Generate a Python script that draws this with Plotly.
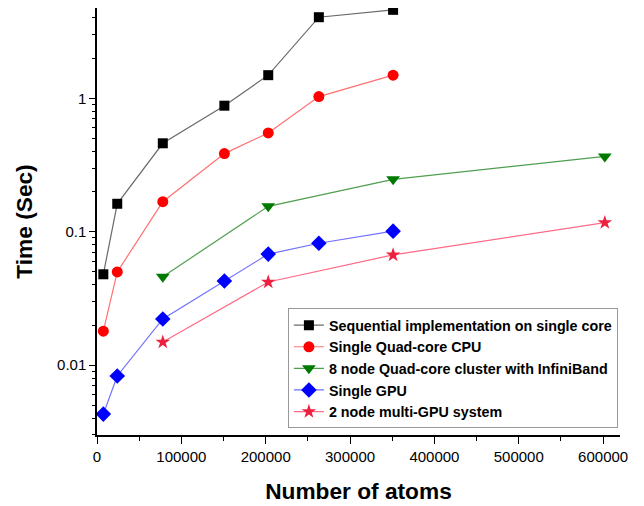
import plotly.graph_objects as go

# Data
seq_x = [7500, 24000, 78000, 151000, 203000, 263000, 351000]
seq_y = [0.048, 0.162, 0.46, 0.88, 1.49, 4.05, 4.6]

cpu_x = [7500, 24000, 78000, 151000, 203000, 263000, 351000]
cpu_y = [0.018, 0.050, 0.168, 0.385, 0.55, 1.03, 1.49]

clu_x = [78000, 203000, 351000, 602000]
clu_y = [0.046, 0.155, 0.247, 0.367]

gpu_x = [7500, 24000, 78000, 151000, 203000, 263000, 351000]
gpu_y = [0.0043, 0.0083, 0.0222, 0.0428, 0.068, 0.082, 0.101]

mgpu_x = [78000, 203000, 351000, 602000]
mgpu_y = [0.0149, 0.042, 0.067, 0.117]

names = [
    "Sequential implementation on single core",
    "Single Quad-core CPU",
    "8 node Quad-core cluster with InfiniBand",
    "Single GPU",
    "2 node multi-GPU system",
]

y_tickvals = [0.01, 0.1, 1]
y_ticktext = ["0.01", "0.1", "1"]
x_tickvals = [0, 100000, 200000, 300000, 400000, 500000, 600000]
x_ticktext = ["0", "100000", "200000", "300000", "400000", "500000", "600000"]

fig = go.Figure()

styles = [
    (seq_x, seq_y, "square", 10, "#000000", "#6a6a6a"),
    (cpu_x, cpu_y, "circle", 11, "#ff0000", "#ff7070"),
    (clu_x, clu_y, "triangle-down", 12, "#007a00", "#4f9f4f"),
    (gpu_x, gpu_y, "diamond", 12, "#0000ff", "#7070ff"),
    (mgpu_x, mgpu_y, "star", 11, "#ee2040", "#ff6a88"),
]

for (xs, ys, sym, sz, mc, lc), nm in zip(styles, names):
    fig.add_trace(go.Scatter(
        x=xs, y=ys, name=nm, mode="lines+markers", cliponaxis=False,
        line=dict(color=lc, width=1.2),
        marker=dict(symbol=sym, size=sz, color=mc, line=dict(width=0)),
    ))

minor_y = [k * 10 ** e for e in range(-3, 1) for k in range(2, 10)]
minor_y = [v for v in minor_y if 0.003 <= v <= 5]

fig.update_layout(
    width=636, height=498,
    margin=dict(l=89, r=24, t=0, b=71),
    paper_bgcolor="white", plot_bgcolor="white",
    font=dict(family="Liberation Sans, Arial, sans-serif", color="black"),
    showlegend=True,
    legend=dict(
        x=0.996, y=0.156, xanchor="right", yanchor="middle",
        bgcolor="white", bordercolor="#999999", borderwidth=1,
        font=dict(size=14.3, family="Liberation Sans, Arial, sans-serif", weight="bold"),
        tracegroupgap=0, itemsizing="trace",
    ),
    xaxis=dict(
        range=[0, 620000], showgrid=False, zeroline=False, automargin=False,
        showline=True, linecolor="black", linewidth=1.5,
        tickmode="array", tickvals=x_tickvals, ticktext=x_ticktext,
        ticks="outside", ticklen=7, tickwidth=1.3, tickcolor="black",
        tickfont=dict(size=15),
        minor=dict(tickvals=[50000, 150000, 250000, 350000, 450000, 550000],
                   ticks="outside", ticklen=4, tickwidth=1.2, tickcolor="black"),
        title=dict(text="<b>Number of atoms</b>", font=dict(size=22.7), standoff=19),
    ),
    yaxis=dict(
        type="log", range=[-2.523, 0.6765], showgrid=False, zeroline=False,
        automargin=False,
        showline=True, linecolor="black", linewidth=1.5,
        tickmode="array", tickvals=y_tickvals, ticktext=y_ticktext,
        ticks="outside", ticklen=6, tickwidth=1.3, tickcolor="black",
        tickfont=dict(size=15),
        minor=dict(tickvals=minor_y, ticks="outside", ticklen=3,
                   tickwidth=1.2, tickcolor="black"),
        title=dict(text="<b>Time (Sec)</b>", font=dict(size=22.7), standoff=18),
    ),
)

fig.write_html("out.html")
